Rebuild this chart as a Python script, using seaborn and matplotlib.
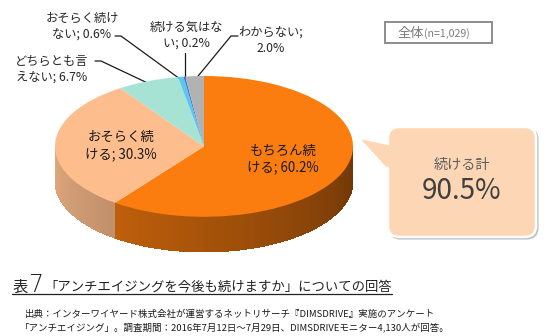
import numpy as np
import matplotlib
matplotlib.use("Agg")
import matplotlib.pyplot as plt
import seaborn as sns
from matplotlib.patches import Polygon, FancyBboxPatch, Rectangle
from matplotlib.collections import PolyCollection
from matplotlib.colors import to_rgb

sns.set_theme(style="white")
plt.rcParams["font.family"] = ["Noto Sans CJK JP", "DejaVu Sans"]

# Survey answers (share of respondents, %)
categories = ["もちろん続ける", "おそらく続ける", "どちらとも言えない",
              "おそらく続けない", "続ける気はない", "わからない"]
values = [60.2, 30.3, 6.7, 0.6, 0.2, 2.0]
label_lines = [("もちろん続", "ける"), ("おそらく続", "ける"), ("どちらとも言", "えない"),
               ("おそらく続け", "ない"), ("続ける気はな", "い"), ("わからない", "")]
colors = ["#FB7D0F", "#FDBD8D", "#A7E3D5", "#5CC6F2", "#4A76CF", "#B2B2B2"]
sample_label = "全体"
sample_size = "(n=1,029)"
total_label = "続ける計"
title_num = "7"
title_text = "「アンチエイジングを今後も続けますか」についての回答"
source_lines = ["出典：インターワイヤード株式会社が運営するネットリサーチ『DIMSDRIVE』実施のアンケート",
                "「アンチエイジング」。調査期間：2016年7月12日～7月29日、DIMSDRIVEモニター4,130人が回答。"]


def make_label(i):
    a, b = label_lines[i]
    if b:
        return f"{a}\n{b}; {values[i]:.1f}%"
    return f"{a};\n{values[i]:.1f}%"


W, H = 554, 336
fig = plt.figure(figsize=(W / 100, H / 100), dpi=100)
fig.patch.set_facecolor("white")

# overlay axes in pixel coordinates (origin top-left)
ax0 = fig.add_axes([0, 0, 1, 1])
ax0.set_xlim(0, W)
ax0.set_ylim(H, 0)
ax0.axis("off")

# tilted pie: flattened top disc plus a shaded rim
px_l, px_r, px_t, px_b = 55, 353, 76, 252
depth = 0.5
axp = fig.add_axes([px_l / W, (H - px_b) / H, (px_r - px_l) / W, (px_b - px_t) / H])
wedges, _ = axp.pie(values, colors=colors, startangle=90, counterclock=False,
                    radius=1, wedgeprops=dict(linewidth=0))
axp.set_aspect("auto")
axp.set_xlim(-1, 1)
axp.set_ylim(-1 - depth, 1)
axp.axis("off")


def shade(c, ang):
    f = 0.9 - 0.47 * (ang - 180) / 180
    r, g, b = to_rgb(c)
    return (r * f, g * f, b * f)


polys, fcols = [], []
for w, c in zip(wedges, colors):
    lo, hi = w.theta1, w.theta2
    for k in (-360, 0, 360):
        a0, a1 = max(lo + k, 180), min(hi + k, 360)
        if a1 <= a0:
            continue
        edges = np.append(np.arange(a0, a1, 1.0), a1)
        for s, e in zip(edges[:-1], edges[1:]):
            t = np.radians([s, min(e + 0.4, a1)])
            polys.append([(np.cos(t[0]), np.sin(t[0])), (np.cos(t[1]), np.sin(t[1])),
                          (np.cos(t[1]), np.sin(t[1]) - depth),
                          (np.cos(t[0]), np.sin(t[0]) - depth)])
            fcols.append(shade(c, (s + e) / 2))
axp.add_collection(PolyCollection(polys, facecolors=fcols, edgecolors="none",
                                  antialiased=False, zorder=0))

# labels inside the two large slices
for i in (0, 1):
    w = wedges[i]
    mid = np.radians((w.theta1 + w.theta2) / 2)
    r = 0.56
    axp.text(r * np.cos(mid), r * np.sin(mid), make_label(i), ha="center", va="center",
             fontsize=9.6, color="#1A1A1A", linespacing=1.25, zorder=5)


def to_px(x, y):
    d = axp.transData.transform((x, y))
    return ax0.transData.inverted().transform(d)


def edge_point(i, r=0.95):
    w = wedges[i]
    mid = np.radians((w.theta1 + w.theta2) / 2)
    return to_px(r * np.cos(mid), r * np.sin(mid))


# outside labels with leader lines
outer = {
    2: dict(text_xy=(52, 69), path=[(95, 61), (101, 61)]),
    3: dict(text_xy=(82, 26), path=[(115, 36), (121, 36)]),
    4: dict(text_xy=(186, 35), path=None),
    5: dict(text_xy=(271, 40), path=[(238, 36), (231, 36)]),
}
for i, o in outer.items():
    ax0.text(*o["text_xy"], make_label(i), ha="center", va="center", fontsize=8.8,
             color="#262626", linespacing=1.3)
    ex, ey = edge_point(i)
    if o["path"] is None:
        xs, ys = [ex, ex], [53, ey]
    else:
        xs = [p[0] for p in o["path"]] + [ex]
        ys = [p[1] for p in o["path"]] + [ey]
    ax0.plot(xs, ys, color="#1A1A1A", lw=0.9)

# sample size box
ax0.add_patch(Rectangle((385, 22), 107, 21, facecolor="white", edgecolor="#8C8C8C", lw=1.4))
ax0.text(424, 33, sample_label, ha="right", va="center", fontsize=9.5, color="#7A7A7A")
ax0.text(424, 33.5, sample_size, ha="left", va="center", fontsize=7.6, color="#7A7A7A")

# callout with the combined share
bx, by, bw, bh = 388, 127, 148, 110
fill = "#FDD6B5"
shadow = "#BFBFBF"
tri = [(358, 138), (390, 145), (390, 173)]
ax0.add_patch(Polygon([(x + 1.5, y + 1.5) for x, y in tri], closed=True,
                      facecolor=shadow, edgecolor=shadow, lw=1.5))
ax0.add_patch(FancyBboxPatch((bx + 1.5, by + 1.5), bw, bh,
                             boxstyle="round,pad=0,rounding_size=11",
                             facecolor=shadow, edgecolor=shadow, lw=1.5))
ax0.add_patch(Polygon(tri, closed=True, facecolor=fill, edgecolor="white", lw=1.8))
ax0.add_patch(FancyBboxPatch((bx, by), bw, bh, boxstyle="round,pad=0,rounding_size=11",
                             facecolor=fill, edgecolor="white", lw=1.8))
ax0.add_patch(Polygon([(362, 139.5), (392, 146), (392, 171)], closed=True,
                      facecolor=fill, edgecolor="none"))
total = values[0] + values[1]
ax0.text(462, 165, total_label, ha="center", va="center", fontsize=10.2, color="#5E5E5E")
ax0.text(462, 191, f"{total:.1f}%", ha="center", va="center", fontsize=20, color="#404040")

# title with underline
ax0.text(13, 287, "表", ha="left", va="center", fontsize=11, color="#222222")
ax0.text(28, 285, title_num, ha="left", va="center", fontsize=17, color="#222222",
         family=["DejaVu Sans"], fontweight="light")
ax0.text(44, 287, title_text, ha="left", va="center", fontsize=9.6, color="#222222")
ax0.plot([12, 392], [294, 294], color="#222222", lw=0.9)

# source note
ax0.text(25, 314, source_lines[0], ha="left", va="center", fontsize=6.8, color="#1A1A1A")
ax0.text(20, 327, source_lines[1], ha="left", va="center", fontsize=6.8, color="#1A1A1A")

fig.savefig("out.png", dpi=100, facecolor="white")
